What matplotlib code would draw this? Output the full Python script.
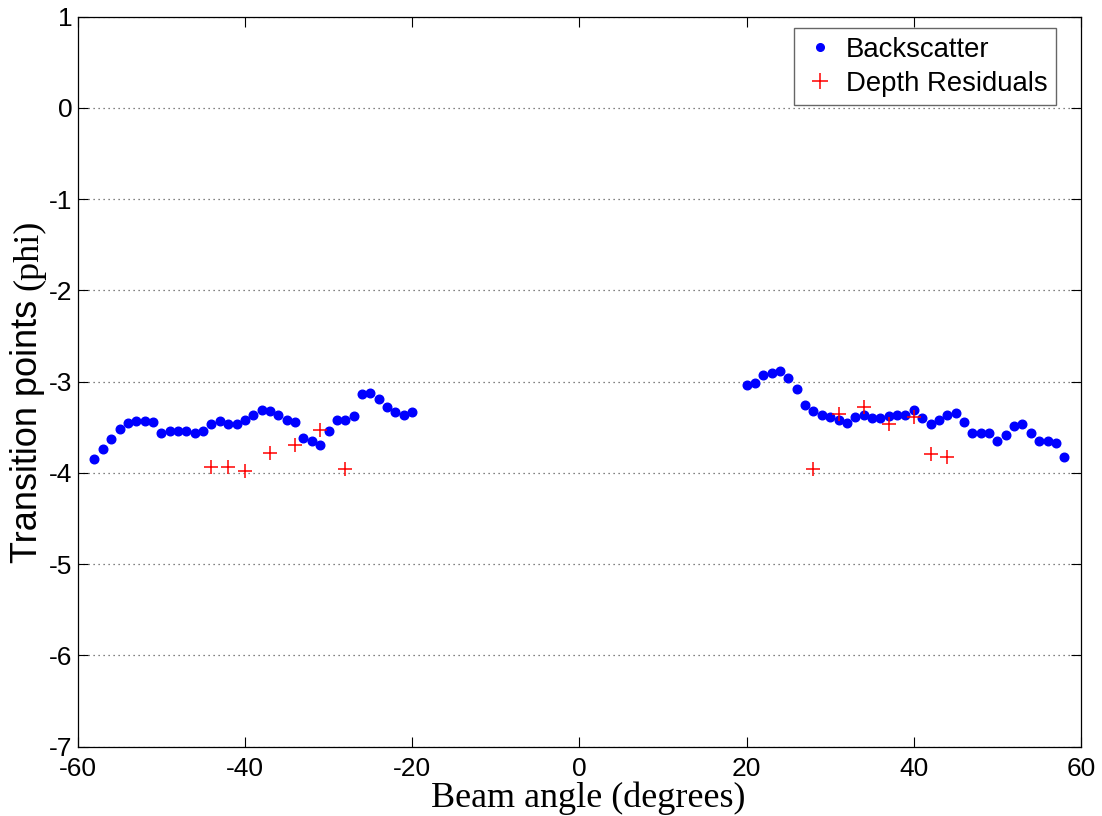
import numpy as np
import matplotlib
matplotlib.use("Agg")
import matplotlib.pyplot as plt

# Backscatter-derived transition points (left and right swath)
bs_left_angle = [-58, -57, -56, -55, -54, -53, -52, -51, -50, -49, -48, -47, -46,
                 -45, -44, -43, -42, -41, -40, -39, -38, -37, -36, -35, -34, -33,
                 -32, -31, -30, -29, -28, -27, -26, -25, -24, -23, -22, -21, -20]
bs_left_phi = [-3.85, -3.74, -3.63, -3.52, -3.45, -3.43, -3.43, -3.44, -3.56, -3.54,
               -3.54, -3.54, -3.56, -3.54, -3.46, -3.43, -3.46, -3.46, -3.42, -3.36,
               -3.31, -3.32, -3.37, -3.42, -3.44, -3.62, -3.65, -3.69, -3.54, -3.42,
               -3.42, -3.38, -3.14, -3.12, -3.19, -3.28, -3.33, -3.36, -3.33]
bs_right_angle = [20, 21, 22, 23, 24, 25, 26, 27, 28, 29, 30, 31, 32, 33, 34, 35, 36,
                  37, 38, 39, 40, 41, 42, 43, 44, 45, 46, 47, 48, 49, 50, 51, 52, 53,
                  54, 55, 56, 57, 58]
bs_right_phi = [-3.04, -3.01, -2.93, -2.91, -2.88, -2.96, -3.08, -3.25, -3.32, -3.37,
                -3.39, -3.42, -3.45, -3.39, -3.37, -3.40, -3.40, -3.38, -3.36, -3.36,
                -3.31, -3.40, -3.46, -3.42, -3.36, -3.34, -3.44, -3.56, -3.56, -3.56,
                -3.65, -3.58, -3.49, -3.46, -3.56, -3.65, -3.65, -3.67, -3.83]

# Depth-residual-derived transition points
dr_angle = [-44, -42, -40, -37, -34, -31, -28, 28, 31, 34, 37, 40, 42, 44]
dr_phi = [-3.94, -3.93, -3.98, -3.78, -3.69, -3.53, -3.96,
          -3.96, -3.35, -3.28, -3.46, -3.39, -3.79, -3.83]

x_ticks = [-60, -40, -20, 0, 20, 40, 60]
y_ticks = [1, 0, -1, -2, -3, -4, -5, -6, -7]

SANS = "Liberation Sans"
SERIF = "Liberation Serif"

W, H = 1102, 816
fig = plt.figure(figsize=(W / 100, H / 100), dpi=100)
ax = fig.add_axes([77.7 / W, 1 - 746.7 / H, (1081 - 77.7) / W, (746.7 - 16.7) / H])

bs_angle = bs_left_angle + bs_right_angle
bs_phi = bs_left_phi + bs_right_phi

ax.plot(bs_angle, bs_phi, linestyle="none", marker="o", markersize=6.2,
        color=(0, 0, 1), markeredgecolor=(0, 0, 1), label="Backscatter", zorder=3)
ax.plot(dr_angle, dr_phi, linestyle="none", marker="+", markersize=10,
        markeredgewidth=1.1, color=(1, 0, 0), label="Depth Residuals", zorder=3)

ax.set_xlim(-60, 60)
ax.set_ylim(-7, 1)
ax.set_xticks(x_ticks)
ax.set_yticks(y_ticks)
ax.set_xticklabels([str(v) for v in x_ticks])
ax.set_yticklabels([str(v) for v in y_ticks])

for lab in ax.get_xticklabels() + ax.get_yticklabels():
    lab.set_fontfamily(SANS)
    lab.set_fontsize(19)

ax.tick_params(axis="both", direction="in", length=7, width=0.8,
               top=True, right=True, colors="black")
ax.tick_params(axis="x", pad=7.5)
ax.tick_params(axis="y", pad=4)
for sp in ax.spines.values():
    sp.set_linewidth(0.9)

# horizontal dotted grid lines only
ax.yaxis.grid(True, linestyle=(0, (1, 3)), color=(0.35, 0.35, 0.35), linewidth=0.9)
ax.xaxis.grid(False)
ax.set_axisbelow(True)

leg = ax.legend(loc="upper right", bbox_to_anchor=(0.975, 0.984), borderaxespad=0,
                prop={"family": SANS, "size": 19.8}, frameon=True, fancybox=False,
                handlelength=1.3, handletextpad=0.3, borderpad=0.3,
                labelspacing=0.3, numpoints=1)
leg.get_frame().set_edgecolor((0.25, 0.25, 0.25))
leg.get_frame().set_linewidth(1.0)
for h in leg.legend_handles:
    if h.get_marker() == "o":
        h.set_markersize(5.5)
    else:
        h.set_markersize(11)

# x label (serif)
fig.text(588.5 / W, 1 - 806.7 / H, "Beam angle (degrees)", family=SERIF, fontsize=26,
         ha="center", va="baseline")

# y label: sans part followed by serif unit
base_x = 37.0 / W
t1 = fig.text(base_x, 1 - 563 / H, "Transition points ", family=SANS, fontsize=26,
              rotation=90, rotation_mode="anchor", ha="left", va="baseline")
fig.canvas.draw()
r = fig.canvas.get_renderer()
bb = t1.get_window_extent(renderer=r)
fig.text(base_x, bb.y1 / H, "(phi)", family=SERIF, fontsize=26,
         rotation=90, rotation_mode="anchor", ha="left", va="baseline")

fig.savefig("out.png", dpi=100)
